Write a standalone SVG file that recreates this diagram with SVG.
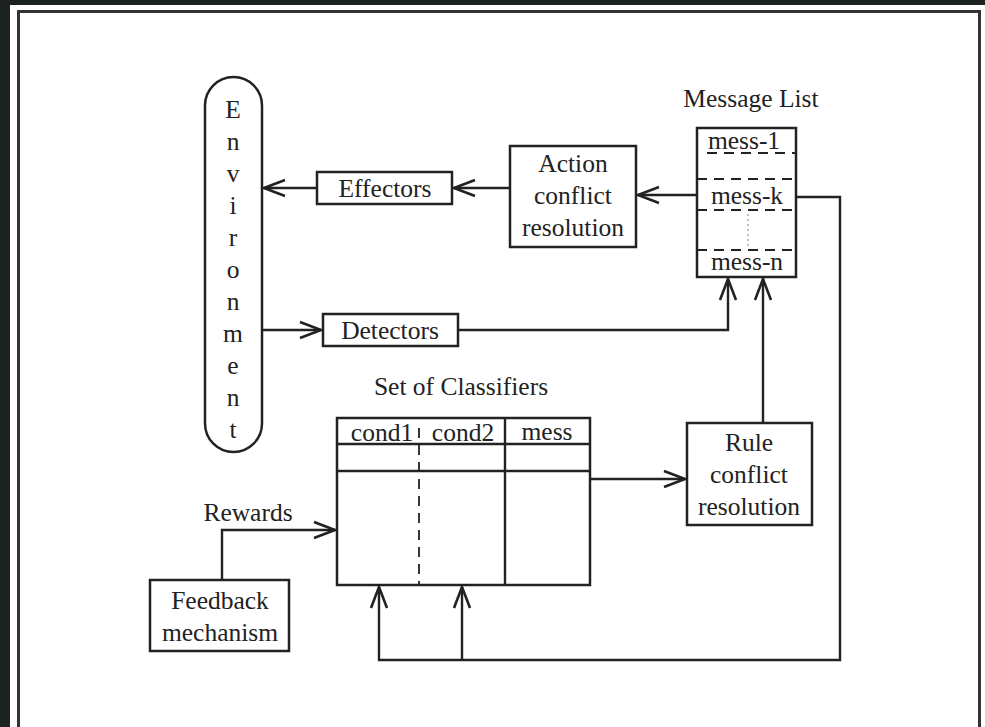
<svg xmlns="http://www.w3.org/2000/svg" width="985" height="727" viewBox="0 0 985 727">
<defs>
<style>
.t{font-family:"Liberation Serif","Times New Roman",serif;font-size:25.5px;fill:#222;text-anchor:middle}
.box{fill:#fff;stroke:#222;stroke-width:2.5}
.ln{fill:none;stroke:#222;stroke-width:2.4}
.dash{fill:none;stroke:#222;stroke-width:1.8;stroke-dasharray:10 7}
</style>
<marker id="arr" markerUnits="userSpaceOnUse" markerWidth="26" markerHeight="22" viewBox="0 0 26 22" refX="23" refY="11" orient="auto">
<path d="M2,3 L23,11 L2,19" fill="none" stroke="#222" stroke-width="2.6"/>
</marker>
</defs>
<rect x="0" y="0" width="985" height="727" fill="#1b2221"/>
<rect x="10" y="5" width="975" height="722" fill="#fff"/>
<rect x="18.5" y="11.5" width="961" height="740" fill="none" stroke="#333" stroke-width="3"/>

<g id="connectors">
<path class="ln" d="M510,188 H454" marker-end="url(#arr)"/>
<path class="ln" d="M317,188 H264" marker-end="url(#arr)"/>
<path class="ln" d="M697,195 H638" marker-end="url(#arr)"/>
<path class="ln" d="M262,330 H321" marker-end="url(#arr)"/>
<path class="ln" d="M458,330 H728 V279" marker-end="url(#arr)"/>
<path class="ln" d="M763,423 V279" marker-end="url(#arr)"/>
<path class="ln" d="M590,479 H685" marker-end="url(#arr)"/>
<path class="ln" d="M222,580 V530 H335" marker-end="url(#arr)"/>
<path class="ln" d="M796,197 H840 V660 H379 V587" marker-end="url(#arr)"/>
<path class="ln" d="M462,660 V587" marker-end="url(#arr)"/>
</g>

<g id="environment">
<rect class="box" x="205" y="77" width="57" height="375" rx="28.5" ry="28.5"/>
<text class="t" x="233" y="118">E</text>
<text class="t" x="233" y="150">n</text>
<text class="t" x="233" y="182">v</text>
<text class="t" x="233" y="214">i</text>
<text class="t" x="233" y="246">r</text>
<text class="t" x="233" y="278">o</text>
<text class="t" x="233" y="310">n</text>
<text class="t" x="233" y="342">m</text>
<text class="t" x="233" y="374">e</text>
<text class="t" x="233" y="406">n</text>
<text class="t" x="233" y="438">t</text>
</g>

<g id="effectors">
<rect class="box" x="317" y="172" width="135" height="32"/>
<text class="t" x="385" y="197">Effectors</text>
</g>

<g id="detectors">
<rect class="box" x="323" y="314" width="135" height="32"/>
<text class="t" x="390" y="339">Detectors</text>
</g>

<g id="action">
<rect class="box" x="510" y="146" width="126" height="101"/>
<text class="t" x="573" y="172">Action</text>
<text class="t" x="573" y="204">conflict</text>
<text class="t" x="573" y="236">resolution</text>
</g>

<g id="message-list">
<text class="t" x="751" y="107">Message List</text>
<rect class="box" x="697" y="128" width="99" height="149"/>
<text class="t" x="744" y="149">mess-1</text>
<text class="t" x="747" y="204">mess-k</text>
<text class="t" x="747" y="270">mess-n</text>
<path class="dash" d="M707,153 H796 M697,179 H796 M697,210 H796 M697,250 H796"/>
<path d="M748,214 V246" fill="none" stroke="#aaa" stroke-width="1.5" stroke-dasharray="2 3"/>
</g>

<g id="classifiers">
<text class="t" x="461" y="395">Set of Classifiers</text>
<rect class="box" x="337" y="418" width="253" height="167"/>
<path class="ln" d="M337,444 H590"/>
<path class="ln" d="M337,471 H590" stroke-width="3"/>
<path class="ln" d="M505,418 V585"/>
<path class="dash" d="M419,428 V585" stroke-dasharray="8 7"/>
<text class="t" x="382" y="441">cond1</text>
<text class="t" x="463" y="441">cond2</text>
<text class="t" x="547" y="440">mess</text>
</g>

<g id="rule">
<rect class="box" x="687" y="423" width="125" height="102"/>
<text class="t" x="749" y="451">Rule</text>
<text class="t" x="749" y="483">conflict</text>
<text class="t" x="749" y="515">resolution</text>
</g>

<g id="feedback">
<text class="t" x="248" y="521">Rewards</text>
<rect class="box" x="150" y="580" width="139" height="71"/>
<text class="t" x="220" y="609">Feedback</text>
<text class="t" x="220" y="641">mechanism</text>
</g>
</svg>
